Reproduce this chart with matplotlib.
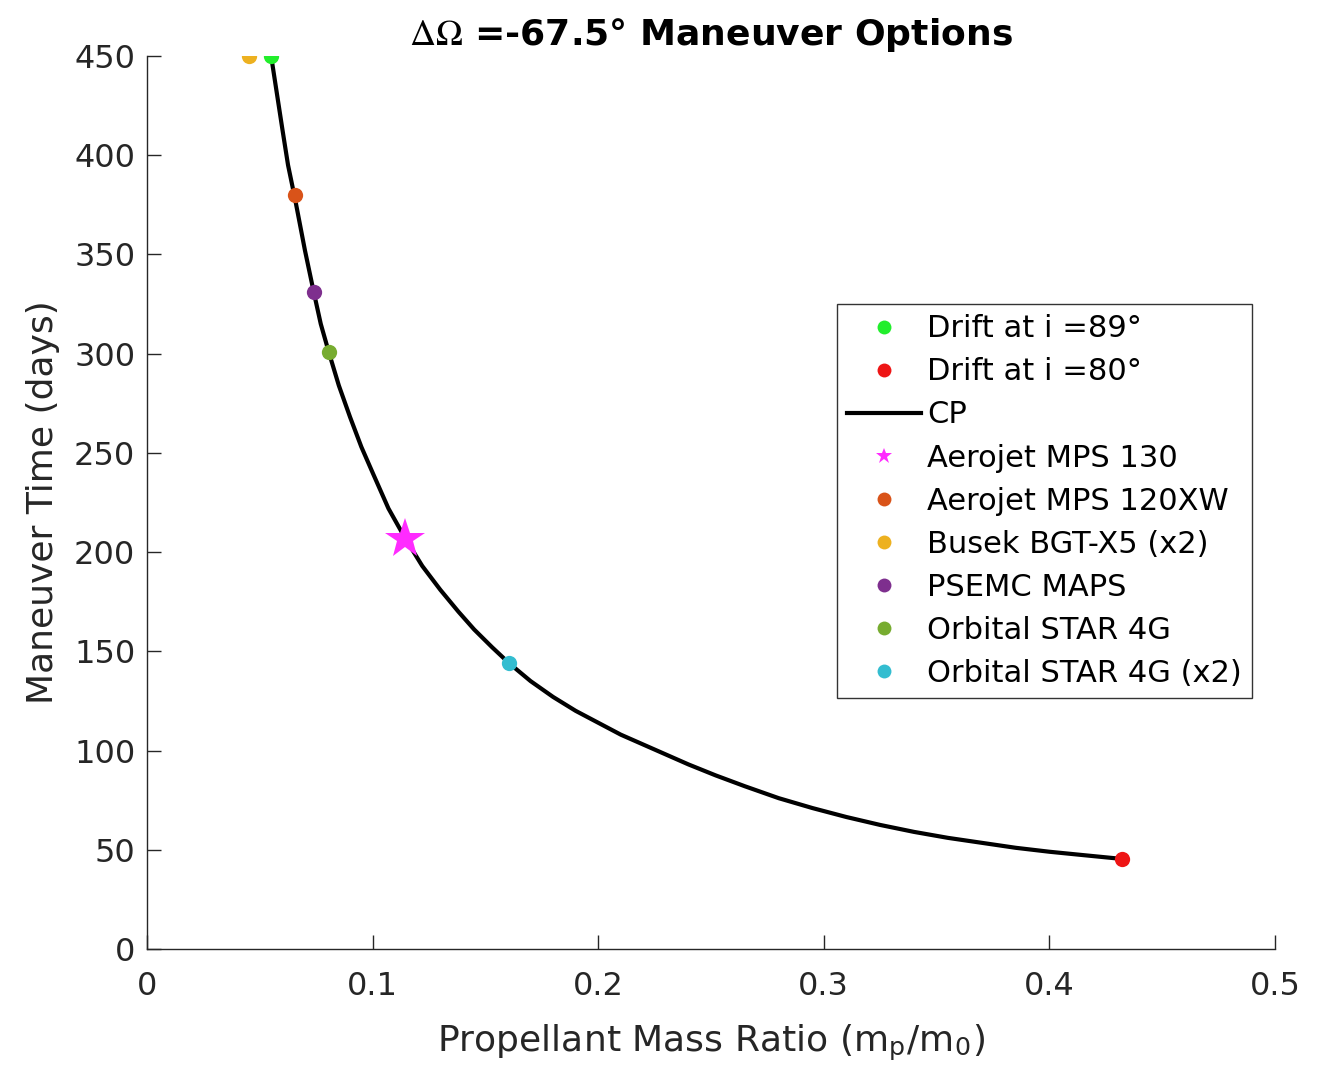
import matplotlib

matplotlib.use("Agg")
import matplotlib.pyplot as plt

plt.rcParams["font.family"] = ["DejaVu Sans"]
plt.rcParams["mathtext.fontset"] = "stix"

# CP curve
CP_RATIO = [0.0550, 0.0600, 0.0625, 0.0656, 0.0678, 0.0700, 0.0739, 0.0770,
            0.0805, 0.0850, 0.0900, 0.0950, 0.1000, 0.1070, 0.1144, 0.1220,
            0.1300, 0.1380, 0.1450, 0.1530, 0.1605, 0.1700, 0.1800, 0.1900,
            0.2000, 0.2100, 0.2200, 0.2300, 0.2400, 0.2520, 0.2650, 0.2800,
            0.2950, 0.3100, 0.3250, 0.3400, 0.3550, 0.3700, 0.3850, 0.4000,
            0.4150, 0.4320]
CP_DAYS = [450, 413, 395, 378, 365, 352, 331, 315, 301, 284, 268, 253, 240,
           222, 207, 193, 181, 170, 161, 152, 144, 135, 127, 120, 114, 108,
           103, 98, 93, 87.5, 82, 76, 71, 66.5, 62.5, 59, 56, 53.5, 51, 49,
           47.3, 45.4]

# named options on the chart
OPTION_LABELS = [
    "Drift at i =89°",
    "Drift at i =80°",
    "Aerojet MPS 130",
    "Aerojet MPS 120XW",
    "Busek BGT-X5 (x2)",
    "PSEMC MAPS",
    "Orbital STAR 4G",
    "Orbital STAR 4G (x2)",
]
OPTION_RATIO = [0.0550, 0.4320, 0.1144, 0.0656, 0.0452, 0.0739, 0.0805, 0.1605]
OPTION_DAYS = [450, 45.4, 206.5, 380, 450, 331, 301, 144]
OPTION_COLORS = ["#22ee2c", "#ee1515", "#ff2bff", "#D95319", "#EDB120",
                 "#7E2F8E", "#77AC30", "#33bdd0"]

TEXT_COLOR = "#262626"


def main():
    fig = plt.figure(figsize=(13.2, 10.74), dpi=100)
    ax = fig.add_axes([0.1114, 0.1164, 0.8545, 0.8315])

    handles = {}
    for label, x, y, color in zip(
        OPTION_LABELS[:2], OPTION_RATIO[:2], OPTION_DAYS[:2], OPTION_COLORS[:2]
    ):
        (h,) = ax.plot([x], [y], "o", color=color, markersize=11,
                       markeredgewidth=0, zorder=4, label=label)
        handles[label] = h

    (cp_line,) = ax.plot(CP_RATIO, CP_DAYS, color="black", linewidth=3,
                         zorder=3, label="CP", solid_joinstyle="round")
    handles["CP"] = cp_line

    for label, x, y, color in zip(
        OPTION_LABELS[2:], OPTION_RATIO[2:], OPTION_DAYS[2:], OPTION_COLORS[2:]
    ):
        marker = "*" if "130" in label else "o"
        size = 30 if marker == "*" else 11
        (h,) = ax.plot([x], [y], marker, color=color, markersize=size,
                       markeredgewidth=0, zorder=4, label=label)
        handles[label] = h

    order = OPTION_LABELS[:2] + ["CP"] + OPTION_LABELS[2:]
    leg = ax.legend(
        [handles[k] for k in order],
        order,
        loc="upper right",
        bbox_to_anchor=(0.9796, 0.7223),
        fontsize=22,
        frameon=True,
        fancybox=False,
        edgecolor="#333333",
        framealpha=1,
        handlelength=2.4,
        handletextpad=0.2,
        labelspacing=0.46,
        borderpad=0.34,
        borderaxespad=0,
    )
    leg.get_frame().set_linewidth(1.0)
    for h in leg.legend_handles:
        if h.get_marker() == "*":
            h.set_markersize(12)
        elif h.get_marker() == "o":
            h.set_markersize(10)

    ax.set_xlim(0, 0.5)
    ax.set_ylim(0, 450)
    ax.set_xticks([0, 0.1, 0.2, 0.3, 0.4, 0.5])
    ax.set_xticklabels(["0", "0.1", "0.2", "0.3", "0.4", "0.5"])
    ax.set_yticks(range(0, 451, 50))

    for side in ["top", "right"]:
        ax.spines[side].set_visible(False)
    for side in ["left", "bottom"]:
        ax.spines[side].set_color(TEXT_COLOR)
        ax.spines[side].set_linewidth(1.0)
    ax.tick_params(direction="in", length=10, width=1.0, colors=TEXT_COLOR,
                   labelsize=23, labelcolor=TEXT_COLOR)
    ax.tick_params(axis="x", pad=16)
    ax.tick_params(axis="y", pad=8.5)

    ax.set_xlabel(r"Propellant Mass Ratio (m$_\mathregular{p}$/m$_\mathregular{0}$)",
                  fontsize=26, color=TEXT_COLOR, labelpad=14)
    ax.set_ylabel("Maneuver Time (days)", fontsize=26, color=TEXT_COLOR,
                  labelpad=10)
    ax.set_title(r"$\Delta\Omega$ =-67.5° Maneuver Options", fontsize=26,
                 fontweight="bold", pad=8)

    fig.savefig("out.png", dpi=100)
    plt.close(fig)


if __name__ == "__main__":
    main()
